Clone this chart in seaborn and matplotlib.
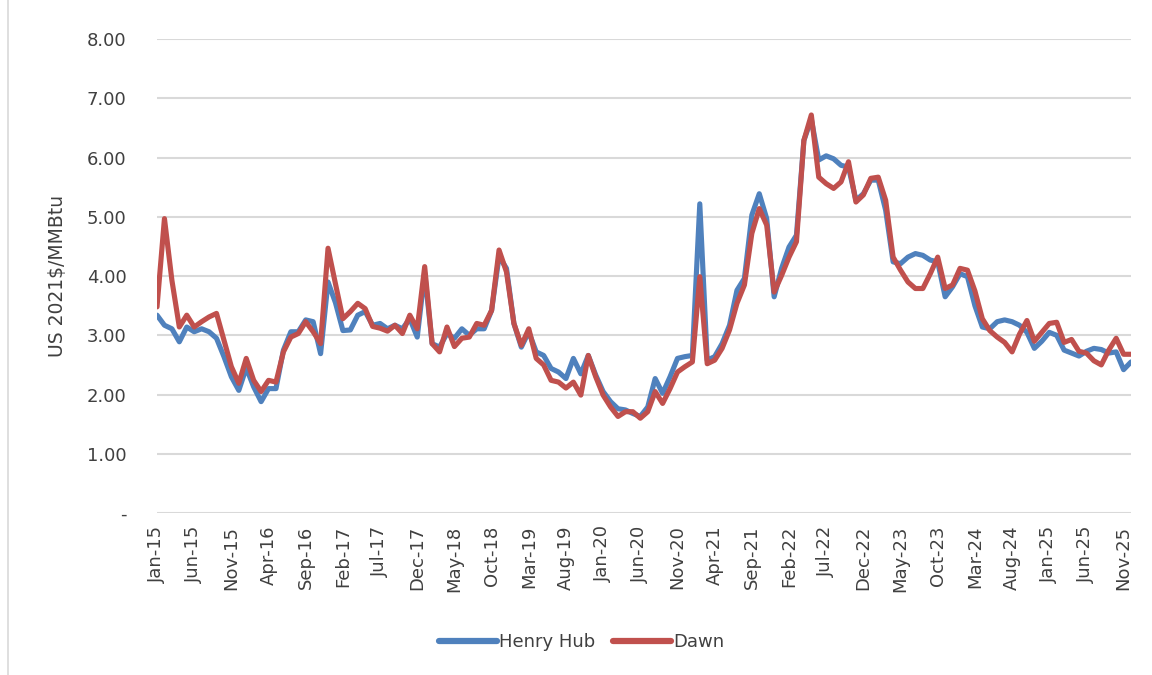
import matplotlib
matplotlib.use("Agg")
import matplotlib.pyplot as plt
import pandas as pd
import seaborn as sns
from matplotlib.patches import Rectangle

# monthly categories Jan-15 .. Dec-25
months = pd.date_range("2015-01-01", "2025-12-01", freq="MS")

henry_hub = [
    3.34, 3.17, 3.11, 2.89, 3.14, 3.06, 3.11, 3.06, 2.95, 2.64, 2.30, 2.07,
    2.45, 2.13, 1.88, 2.10, 2.10, 2.75, 3.06, 3.06, 3.26, 3.23, 2.69, 3.90,
    3.55, 3.08, 3.09, 3.34, 3.40, 3.17, 3.20, 3.11, 3.17, 3.11, 3.28, 2.97,
    4.05, 2.86, 2.80, 3.03, 2.95, 3.11, 3.00, 3.11, 3.11, 3.42, 4.33, 4.13,
    3.20, 2.80, 3.06, 2.72, 2.66, 2.44, 2.38, 2.27, 2.61, 2.35, 2.66, 2.33,
    2.05, 1.88, 1.76, 1.74, 1.68, 1.63, 1.79, 2.27, 2.02, 2.30, 2.61, 2.64,
    2.66, 5.22, 2.58, 2.64, 2.86, 3.17, 3.76, 3.96, 5.03, 5.39, 4.97, 3.65,
    4.13, 4.49, 4.69, 6.29, 6.65, 5.96, 6.03, 5.98, 5.87, 5.84, 5.28, 5.39,
    5.62, 5.62, 5.11, 4.24, 4.21, 4.32, 4.38, 4.35, 4.27, 4.24, 3.65, 3.82,
    4.04, 3.99, 3.50, 3.14, 3.11, 3.23, 3.26, 3.23, 3.17, 3.05, 2.78, 2.90,
    3.05, 3.00, 2.75, 2.70, 2.65, 2.73, 2.78, 2.76, 2.70, 2.72, 2.42, 2.55,
]

dawn = [
    3.48, 4.97, 3.93, 3.14, 3.34, 3.14, 3.23, 3.31, 3.37, 2.92, 2.47, 2.19,
    2.61, 2.24, 2.05, 2.24, 2.21, 2.72, 2.97, 3.03, 3.23, 3.06, 2.86, 4.47,
    3.87, 3.28, 3.40, 3.54, 3.45, 3.15, 3.12, 3.07, 3.17, 3.03, 3.34, 3.11,
    4.16, 2.86, 2.72, 3.14, 2.81, 2.95, 2.97, 3.20, 3.17, 3.42, 4.44, 4.07,
    3.20, 2.83, 3.11, 2.61, 2.50, 2.24, 2.21, 2.11, 2.21, 1.99, 2.66, 2.30,
    1.99, 1.79, 1.63, 1.71, 1.71, 1.60, 1.71, 2.05, 1.85, 2.10, 2.38, 2.47,
    2.55, 3.99, 2.52, 2.58, 2.78, 3.09, 3.54, 3.85, 4.72, 5.14, 4.86, 3.73,
    4.01, 4.32, 4.58, 6.29, 6.72, 5.67, 5.56, 5.48, 5.59, 5.93, 5.25, 5.37,
    5.65, 5.67, 5.28, 4.32, 4.10, 3.90, 3.79, 3.79, 4.04, 4.32, 3.79, 3.85,
    4.13, 4.10, 3.75, 3.28, 3.08, 2.97, 2.88, 2.72, 3.02, 3.25, 2.90, 3.05,
    3.20, 3.22, 2.88, 2.93, 2.73, 2.70, 2.57, 2.50, 2.75, 2.95, 2.68, 2.68,
]

y_ticks = [0, 1, 2, 3, 4, 5, 6, 7, 8]
y_labels = ["-", "1.00", "2.00", "3.00", "4.00", "5.00", "6.00", "7.00", "8.00"]

df = pd.DataFrame({"idx": range(len(months)), "Henry Hub": henry_hub, "Dawn": dawn})
long = df.melt(id_vars="idx", var_name="series", value_name="price")

sns.set_style("white")
plt.rcParams["font.family"] = ["DejaVu Sans"]

fig = plt.figure(figsize=(11.52, 6.75), dpi=100)
ax = fig.add_axes([0.1363, 0.24, 0.8455, 0.702])

sns.lineplot(data=long, x="idx", y="price", hue="series",
             palette={"Henry Hub": "#4f81bd", "Dawn": "#c0504d"},
             linewidth=3.7, ax=ax)

ax.set_xlim(0, len(months) - 1)
ax.set_ylim(0, 8)
ax.set_yticks(y_ticks)
ax.set_yticklabels(y_labels, fontsize=13, color="#404040")
xt = list(range(0, len(months), 5))
ax.set_xticks(xt)
ax.set_xticklabels([months[i].strftime("%b-%y") for i in xt], rotation=90,
                   fontsize=13, color="#404040")
ax.tick_params(length=0)
ax.tick_params(axis="y", pad=22)
ax.tick_params(axis="x", pad=9)
ax.yaxis.grid(True, color="#d9d9d9", linewidth=1.5)
ax.set_axisbelow(True)
for s in ax.spines.values():
    s.set_visible(False)
ax.set_xlabel("")
ax.set_ylabel("US 2021$/MMBtu", fontsize=13.5, color="#404040", labelpad=14)

ax.legend(loc="center", ncol=2, frameon=False, fontsize=13, handlelength=3.2,
          columnspacing=1.0, handletextpad=0.1, labelcolor="#404040")
leg = ax.get_legend()
leg.set_bbox_to_anchor((0.505, 0.049), transform=fig.transFigure)
for h in leg.get_lines():
    h.set_linewidth(4.5)

# light outer border of the chart area
fig.patches.append(Rectangle((0.007, -0.01), 1.0, 1.02, transform=fig.transFigure,
                             fill=False, edgecolor="#d9d9d9", linewidth=1.2))

fig.savefig("out.png", dpi=100)
